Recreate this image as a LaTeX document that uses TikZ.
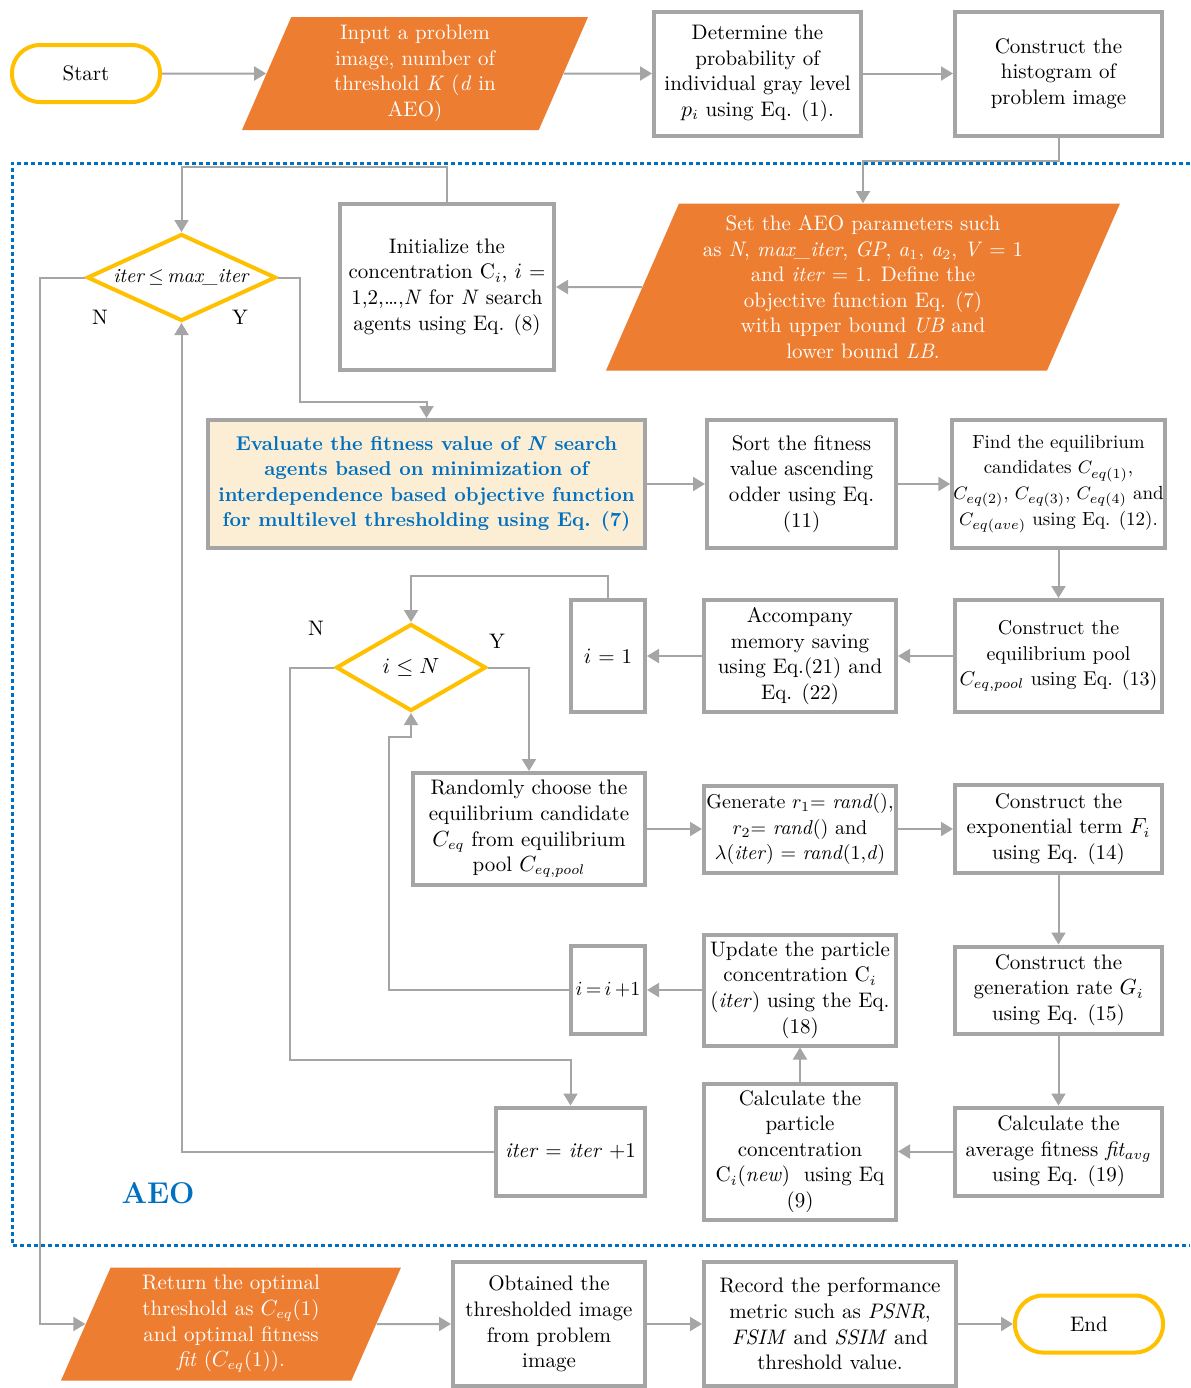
\documentclass[tikz,border=0pt]{standalone}
\usetikzlibrary{shapes.geometric,arrows.meta}
\definecolor{linegray}{HTML}{A5A5A5}
\definecolor{aeoorange}{HTML}{ED7D31}
\definecolor{aeoyellow}{HTML}{FFC000}
\definecolor{aeoblue}{HTML}{0070C0}
\definecolor{evalfill}{HTML}{FBEED5}
\begin{document}
\begin{tikzpicture}[x=0.5pt, y=-0.5pt, font=\fontsize{10.5}{12.8}\selectfont,
    box/.style={draw=linegray, line width=2pt, fill=white, align=center, inner sep=0.5pt},
    iobox/.style={trapezium, trapezium left angle=63, trapezium right angle=117,
        trapezium stretches body, fill=aeoorange, text=white, align=center, inner sep=0pt},
    term/.style={draw=aeoyellow, line width=2pt, rounded corners=14pt,
        minimum width=74pt, minimum height=28.5pt},
    decision/.style={diamond, draw=aeoyellow, line width=2pt, inner sep=0pt, align=center},
    conn/.style={draw=linegray, line width=1pt, -{Triangle[length=6pt, width=7pt]}},
    small/.style={font=\fontsize{10}{12.8}\selectfont},
    smaller/.style={font=\fontsize{9.5}{12.8}\selectfont}]
    \useasboundingbox (0,0) rectangle (1190,1388);

    % AEO loop frame
    \draw[aeoblue, line width=1.5pt, dash pattern=on 2pt off 1.5pt]
        (1190,163) -- (12,163) -- (12,1245) -- (1190,1245);
    \node[text=aeoblue, font=\fontsize{15}{18}\selectfont\bfseries] (aeolbl) at (158,1193) {AEO};

    % top row
    \node[term] (start) at (86,73.5) {Start};
    \node[iobox, minimum width=173pt, minimum height=56.5pt] (input) at (415,73.5)
        {Input a problem\\ image, number of\\ threshold \textit{K} (\textit{d} in\\ AEO)};
    \node[box, minimum width=103.5pt, minimum height=62pt] (prob) at (757.5,73.5)
        {Determine the\\ probability of\\ individual gray level\\ $p_i$ using Eq. (1).};
    \node[box, minimum width=103.5pt, minimum height=62pt] (hist) at (1058.5,73.5)
        {Construct the\\ histogram of\\ problem image};

    % initialisation
    \node[iobox, minimum width=257pt, minimum height=83.5pt] (setpar) at (863,287)
        {Set the AEO parameters such\\ as \textit{N}, \textit{max\_iter}, \textit{GP}, \textit{a}$_1$, \textit{a}$_2$, \textit{V} = 1\\
         and \textit{iter} = 1. Define the\\ objective function Eq. (7)\\
         with upper bound \textit{UB} and\\ lower bound \textit{LB}.};
    \node[box, minimum width=107pt, minimum height=83pt] (init) at (447,287)
        {Initialize the\\ concentration C$_i$, $i$ =\\ 1,2,\ldots,\textit{N} for \textit{N} search\\ agents using Eq. (8)};
    \node[decision, small, minimum width=94.5pt, minimum height=43.5pt, aspect=2.6] (iterchk) at (181.5,277.5)
        {\textit{iter}\,$\leq$\,\textit{max\_iter}};
    \node (nlbl1) at (100,317) {N};
    \node (ylbl1) at (240,317) {Y};

    % fitness and equilibrium pool
    \node[box, fill=evalfill, text=aeoblue, minimum width=218.5pt, minimum height=64pt,
        font=\fontsize{10}{12.8}\selectfont\bfseries] (evalfit) at (426.5,484)
        {Evaluate the fitness value of \textit{N} search\\ agents based on minimization of\\
         interdependence based objective function\\ for multilevel thresholding using Eq. (7)};
    \node[box, minimum width=94.5pt, minimum height=64pt] (sortfit) at (801.5,484)
        {Sort the fitness\\ value ascending\\ odder using Eq.\\ (11)};
    \node[box, smaller, minimum width=103.5pt, minimum height=64pt] (findeq) at (1058.5,484)
        {Find the equilibrium\\ candidates $C_{eq(1)}$,\\ $C_{eq(2)}$, $C_{eq(3)}$, $C_{eq(4)}$ and\\ $C_{eq(ave)}$ using Eq. (12).};
    \node[box, small, minimum width=103.5pt, minimum height=56pt] (eqpool) at (1058.5,656)
        {Construct the\\ equilibrium pool\\ $C_{eq,pool}$ using Eq. (13)};
    \node[box, minimum width=96pt, minimum height=56pt] (memsave) at (800,656)
        {Accompany\\ memory saving\\ using Eq.(21) and\\ Eq. (22)};
    \node[box, minimum width=37pt, minimum height=56pt] (iset) at (608,656) {$i$ = 1};

    % inner loop
    \node[decision, minimum width=75pt, minimum height=43.5pt, aspect=1.7] (ichk) at (411,667.5) {$i \leq N$};
    \node (nlbl2) at (316,628) {N};
    \node (ylbl2) at (497,641) {Y};
    \node[box, minimum width=116pt, minimum height=56pt] (choose) at (529,829)
        {Randomly choose the\\ equilibrium candidate\\ $C_{eq}$ from equilibrium\\ pool $C_{eq,pool}$};
    \node[box, small, minimum width=96pt, minimum height=43.5pt] (gener) at (800,829)
        {Generate $r_1$= \textit{rand}(),\\ $r_2$= \textit{rand}() and\\ $\lambda$(\textit{iter}) = \textit{rand}(1,\textit{d})};
    \node[box, minimum width=103.5pt, minimum height=44pt] (expterm) at (1058.5,829)
        {Construct the\\ exponential term $F_i$\\ using Eq. (14)};
    \node[box, minimum width=103.5pt, minimum height=43.5pt] (genrate) at (1058.5,990)
        {Construct the\\ generation rate $G_i$\\ using Eq. (15)};
    \node[box, minimum width=103.5pt, minimum height=44pt] (avgfit) at (1058.5,1151.5)
        {Calculate the\\ average fitness \textit{fit}$_{avg}$\\ using Eq. (19)};
    \node[box, minimum width=96pt, minimum height=68pt] (calcc) at (800,1151.5)
        {Calculate the\\ particle\\ concentration\\ C$_i$(\textit{new})~ using Eq\\ (9)};
    \node[box, minimum width=96pt, minimum height=55.5pt] (updc) at (800,990)
        {Update the particle\\ concentration C$_i$\\ (\textit{iter}) using the Eq.\\ (18)};
    \node[box, small, minimum width=37pt, minimum height=44pt] (iinc) at (608,990) {$i$\,=\,$i$\,+1};
    \node[box, minimum width=74.5pt, minimum height=44pt] (iterinc) at (570.5,1151.5)
        {\textit{iter} = \textit{iter} +1};

    % bottom row
    \node[iobox, minimum width=170pt, minimum height=56.5pt] (retopt) at (231,1324)
        {Return the optimal\\ threshold as $C_{eq}$(1)\\ and optimal fitness\\ \textit{fit} ($C_{eq}$(1)).};
    \node[box, minimum width=96pt, minimum height=62pt] (obtimg) at (549,1324)
        {Obtained the\\ thresholded image\\ from problem\\ image};
    \node[box, minimum width=126pt, minimum height=62pt] (record) at (830,1324)
        {Record the performance\\ metric such as \textit{PSNR},\\ \textit{FSIM} and \textit{SSIM} and\\ threshold value.};
    \node[term] (finish) at (1089,1324) {End};

    % connectors
    \draw[conn] (start) -- (input);
    \draw[conn] (input) -- (prob);
    \draw[conn] (prob) -- (hist);
    \draw[conn] (hist.south) -- ++(0,23) -| (setpar.north);
    \draw[conn] (setpar) -- (init);
    \draw[conn] (init.north) -- ++(0,-35) -| (iterchk.north);
    \draw[conn] (iterchk.east) -- (300,277.5) -- (300,402) -| (evalfit.north);
    \draw[conn] (iterchk.west) -- (40,277.5) |- (retopt);
    \draw[conn] (evalfit) -- (sortfit);
    \draw[conn] (sortfit) -- (findeq);
    \draw[conn] (findeq) -- (eqpool);
    \draw[conn] (eqpool) -- (memsave);
    \draw[conn] (memsave) -- (iset);
    \draw[conn] (iset.north) -- ++(0,-22) -| (ichk.north);
    \draw[conn] (ichk.east) -| (choose.north);
    \draw[conn] (ichk.west) -- (290,667.5) -- (290,1060) -| (iterinc.north);
    \draw[conn] (choose) -- (gener);
    \draw[conn] (gener) -- (expterm);
    \draw[conn] (expterm) -- (genrate);
    \draw[conn] (genrate) -- (avgfit);
    \draw[conn] (avgfit) -- (calcc);
    \draw[conn] (calcc) -- (updc);
    \draw[conn] (updc) -- (iinc);
    \draw[conn] (iinc.west) -- (389,990) -- (389,737) -| (ichk.south);
    \draw[conn] (iterinc.west) -| (iterchk.south);
    \draw[conn] (retopt) -- (obtimg);
    \draw[conn] (obtimg) -- (record);
    \draw[conn] (record) -- (finish);
\end{tikzpicture}
\end{document}
